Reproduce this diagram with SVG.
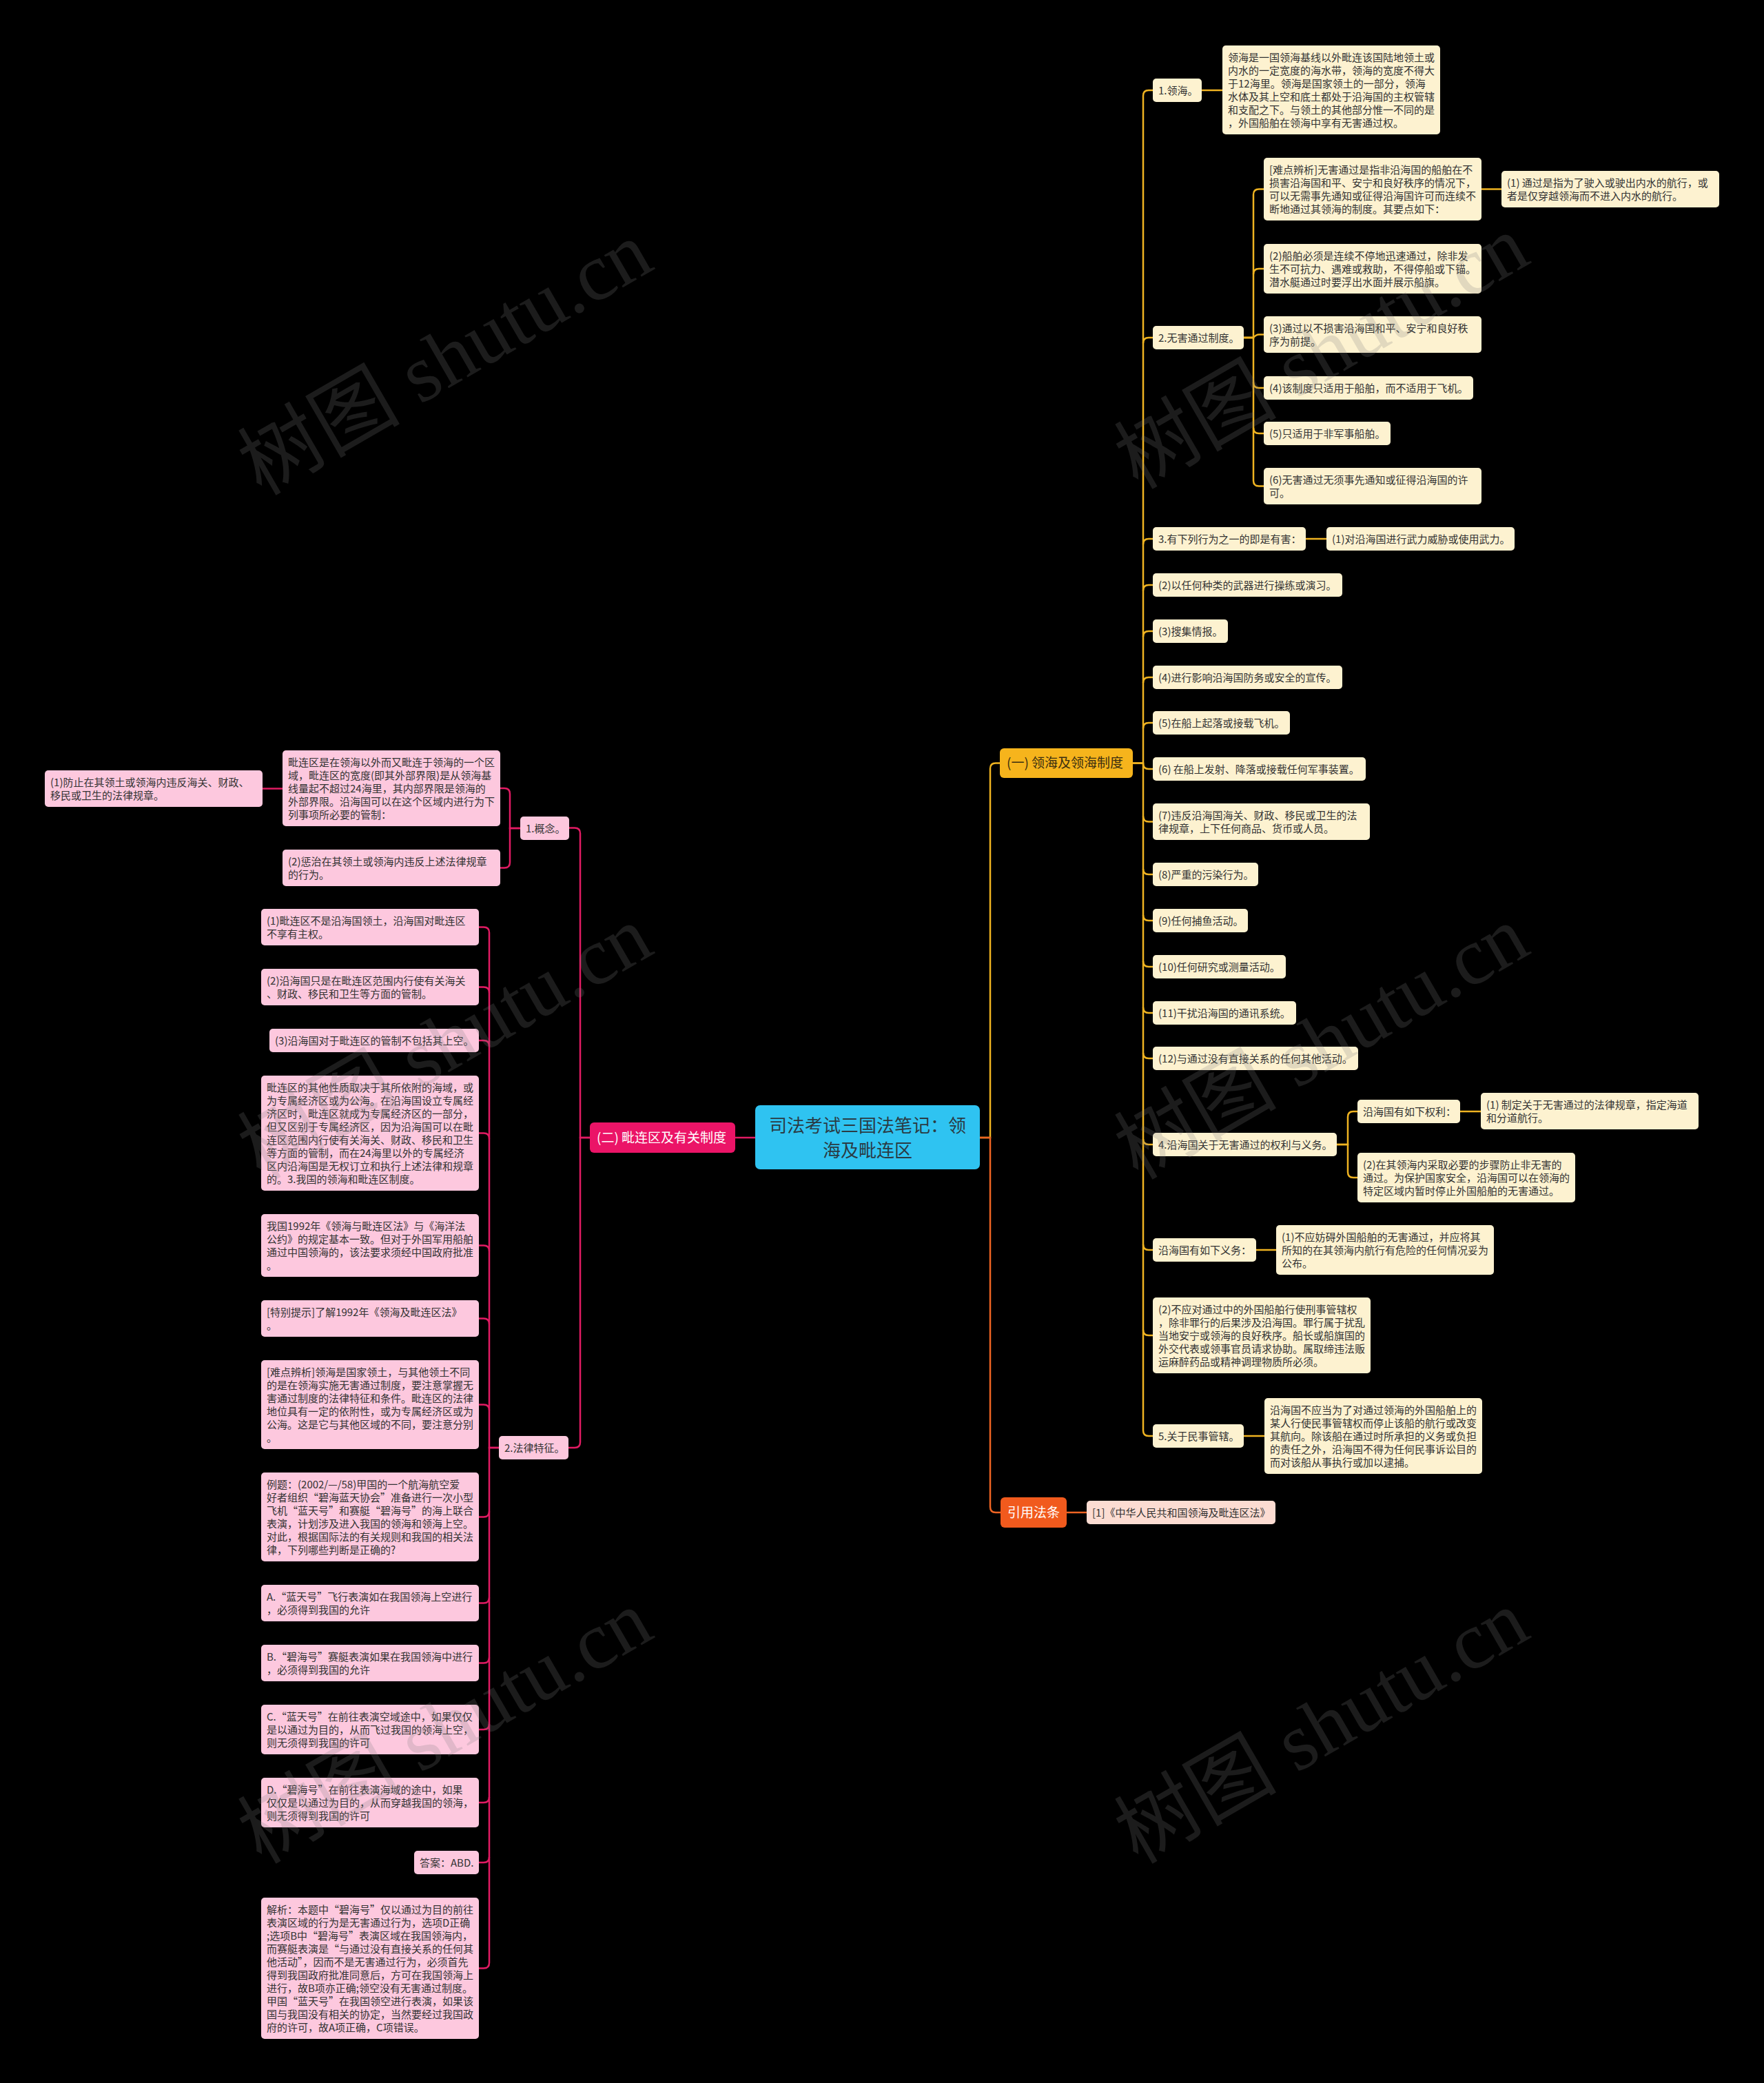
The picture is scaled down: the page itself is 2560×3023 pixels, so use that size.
<svg xmlns="http://www.w3.org/2000/svg" width="2560" height="3023" viewBox="0 0 2560 3023">
<style>
.t{font-family:"Noto Sans CJK SC","Noto Sans",sans-serif;font-size:15px;fill:#333}
.y rect{fill:#fdf2d0}
.p rect{fill:#fdc8de}
.o rect{fill:#fcdcd2}
.cy{fill:none;stroke:#efb321;stroke-width:2.5}
.cp{fill:none;stroke:#e11b63;stroke-width:2.5}
.co{fill:none;stroke:#ee6423;stroke-width:2.5}
.h{font-family:"Noto Sans CJK SC",sans-serif;font-size:19px}
.wm{font-family:"Liberation Serif","Noto Sans CJK SC",serif;font-size:118px;fill:#808080;opacity:0.22}
</style>
<rect x="0" y="0" width="2560" height="3023" fill="#000"/>

<g id="connectors">
<path class="cy" d="M1422,1651 H1437 V1115.5 Q1437,1107.5 1445,1107.5 H1451"/>
<path class="co" d="M1422,1651 H1437 V2187 Q1437,2195 1445,2195 H1452"/>
<path class="co" d="M1548,2195 H1577"/>
<path class="cp" d="M1096,1651 H1067"/>
<path class="cy" d="M1644,1107.5 H1659 V139 Q1659,131 1667,131 H1673"/>
<path class="cy" d="M1659,498 Q1659,490 1667,490 H1673"/>
<path class="cy" d="M1659,790 Q1659,782 1667,782 H1673"/>
<path class="cy" d="M1659,857 Q1659,849 1667,849 H1673"/>
<path class="cy" d="M1659,924 Q1659,916 1667,916 H1673"/>
<path class="cy" d="M1659,991 Q1659,983 1667,983 H1673"/>
<path class="cy" d="M1659,1057 Q1659,1049 1667,1049 H1673"/>
<path class="cy" d="M1659,1108 Q1659,1116 1667,1116 H1673"/>
<path class="cy" d="M1644,1107.5 H1659 V2076 Q1659,2084 1667,2084 H1673"/>
<path class="cy" d="M1659,1184.5 Q1659,1192.5 1667,1192.5 H1673"/>
<path class="cy" d="M1659,1261 Q1659,1269 1667,1269 H1673"/>
<path class="cy" d="M1659,1328 Q1659,1336 1667,1336 H1673"/>
<path class="cy" d="M1659,1395 Q1659,1403 1667,1403 H1673"/>
<path class="cy" d="M1659,1462 Q1659,1470 1667,1470 H1673"/>
<path class="cy" d="M1659,1528 Q1659,1536 1667,1536 H1673"/>
<path class="cy" d="M1659,1653 Q1659,1661 1667,1661 H1673"/>
<path class="cy" d="M1659,1806 Q1659,1814 1667,1814 H1673"/>
<path class="cy" d="M1659,1930 Q1659,1938 1667,1938 H1673"/>
<path class="cy" d="M1744,131 H1774"/>
<path class="cy" d="M1805,490 H1819 V282.5 Q1819,274.5 1827,274.5 H1834"/>
<path class="cy" d="M1819,398 Q1819,390 1827,390 H1834"/>
<path class="cy" d="M1805,490 H1819 Q1823,485.5 1827,485.5 H1834"/>
<path class="cy" d="M1805,490 H1819 V697.5 Q1819,705.5 1827,705.5 H1834"/>
<path class="cy" d="M1819,555 Q1819,563 1827,563 H1834"/>
<path class="cy" d="M1819,621 Q1819,629 1827,629 H1834"/>
<path class="cy" d="M2150,274.5 H2179"/>
<path class="cy" d="M1895,782 H1925"/>
<path class="cy" d="M1940,1661 H1956 V1621 Q1956,1613 1964,1613 H1970"/>
<path class="cy" d="M1940,1661 H1956 V1701 Q1956,1709 1964,1709 H1970"/>
<path class="cy" d="M2119,1613 H2149"/>
<path class="cy" d="M1823,1814 H1852"/>
<path class="cy" d="M1805,2084 H1835"/>
<path class="cp" d="M856,1651 H842 V1209.5 Q842,1201.5 834,1201.5 H826"/>
<path class="cp" d="M856,1651 H842 V2093 Q842,2101 834,2101 H825"/>
<path class="cp" d="M755,1202 H740 V1152 Q740,1144 732,1144 H726"/>
<path class="cp" d="M755,1202 H740 V1251.5 Q740,1259.5 732,1259.5 H726"/>
<path class="cp" d="M410,1144.5 H381"/>
<path class="cp" d="M724,2101 H710 V1353.5 Q710,1345.5 702,1345.5 H695"/>
<path class="cp" d="M724,2101 H710 V2848.5 Q710,2856.5 702,2856.5 H695"/>
<path class="cp" d="M710,1440.5 Q710,1432.5 702,1432.5 H695"/>
<path class="cp" d="M710,1518 Q710,1510 702,1510 H695"/>
<path class="cp" d="M710,1652.5 Q710,1644.5 702,1644.5 H695"/>
<path class="cp" d="M710,1815.5 Q710,1807.5 702,1807.5 H695"/>
<path class="cp" d="M710,1921.5 Q710,1913.5 702,1913.5 H695"/>
<path class="cp" d="M710,2046.5 Q710,2038.5 702,2038.5 H695"/>
<path class="cp" d="M710,2193.5 Q710,2201.5 702,2201.5 H695"/>
<path class="cp" d="M710,2318.5 Q710,2326.5 702,2326.5 H695"/>
<path class="cp" d="M710,2405.5 Q710,2413.5 702,2413.5 H695"/>
<path class="cp" d="M710,2502 Q710,2510 702,2510 H695"/>
<path class="cp" d="M710,2608 Q710,2616 702,2616 H695"/>
<path class="cp" d="M710,2695 Q710,2703 702,2703 H695"/>
</g>

<g id="root">
<rect x="1096" y="1604" width="326" height="93" rx="7" fill="#2fc3f1"/>
<text font-family="Noto Sans CJK SC,sans-serif" font-size="26" fill="#2a3b44" text-anchor="middle"><tspan x="1259" y="1642.5">司法考试三国法笔记：领</tspan><tspan x="1259" y="1678.5">海及毗连区</tspan></text>
</g>

<g id="b1">
<rect x="1451" y="1086" width="193" height="43" rx="6" fill="#f6b41c"/>
<text class="h" x="1461" y="1114" fill="#3a2e10">(一) 领海及领海制度</text>
</g>
<g id="b2">
<rect x="856" y="1629" width="211" height="44" rx="6" fill="#eb1467"/>
<text class="h" x="866" y="1658" fill="#fff">(二) 毗连区及有关制度</text>
</g>
<g id="b3">
<rect x="1452" y="2173" width="96" height="44" rx="6" fill="#f15a1d"/>
<text class="h" x="1462" y="2202" fill="#fff">引用法条</text>
</g>
<g id="b3c" class="o">
<rect x="1577" y="2178" width="274" height="34" rx="5"/>
<text class="t" x="1585" y="2200.5">[1]《中华人民共和国领海及毗连区法》</text>
</g>

<g id="r1" class="y"><rect x="1673" y="114" width="71" height="34" rx="5"/><text class="t" x="1681" y="136.5">1.领海。</text></g>
<g id="r1a" class="y"><rect x="1774" y="66" width="316" height="129" rx="5"/><text class="t"><tspan x="1782" y="88.5">领海是一国领海基线以外毗连该国陆地领土或</tspan><tspan x="1782" y="107.5">内水的一定宽度的海水带，领海的宽度不得大</tspan><tspan x="1782" y="126.5">于12海里。领海是国家领土的一部分，领海</tspan><tspan x="1782" y="145.5">水体及其上空和底土都处于沿海国的主权管辖</tspan><tspan x="1782" y="164.5">和支配之下。与领土的其他部分惟一不同的是</tspan><tspan x="1782" y="183.5">，外国船舶在领海中享有无害通过权。</tspan></text></g>
<g id="r2" class="y"><rect x="1673" y="473" width="132" height="34" rx="5"/><text class="t" x="1681" y="495.5">2.无害通过制度。</text></g>
<g id="r2a" class="y"><rect x="1834" y="229" width="316" height="91" rx="5"/><text class="t"><tspan x="1842" y="251.5">[难点辨析]无害通过是指非沿海国的船舶在不</tspan><tspan x="1842" y="270.5">损害沿海国和平、安宁和良好秩序的情况下，</tspan><tspan x="1842" y="289.5">可以无需事先通知或征得沿海国许可而连续不</tspan><tspan x="1842" y="308.5">断地通过其领海的制度。其要点如下：</tspan></text></g>
<g id="r2a1" class="y"><rect x="2179" y="248" width="316" height="53" rx="5"/><text class="t"><tspan x="2187" y="270.5">(1) 通过是指为了驶入或驶出内水的航行，或</tspan><tspan x="2187" y="289.5">者是仅穿越领海而不进入内水的航行。</tspan></text></g>
<g id="r2b" class="y"><rect x="1834" y="354" width="316" height="72" rx="5"/><text class="t"><tspan x="1842" y="376.5">(2)船舶必须是连续不停地迅速通过，除非发</tspan><tspan x="1842" y="395.5">生不可抗力、遇难或救助，不得停船或下锚。</tspan><tspan x="1842" y="414.5">潜水艇通过时要浮出水面并展示船旗。</tspan></text></g>
<g id="r2c" class="y"><rect x="1834" y="459" width="316" height="53" rx="5"/><text class="t"><tspan x="1842" y="481.5">(3)通过以不损害沿海国和平、安宁和良好秩</tspan><tspan x="1842" y="500.5">序为前提。</tspan></text></g>
<g id="r2d" class="y"><rect x="1834" y="546" width="304" height="34" rx="5"/><text class="t" x="1842" y="568.5">(4)该制度只适用于船舶，而不适用于飞机。</text></g>
<g id="r2e" class="y"><rect x="1834" y="612" width="184" height="34" rx="5"/><text class="t" x="1842" y="634.5">(5)只适用于非军事船舶。</text></g>
<g id="r2f" class="y"><rect x="1834" y="679" width="316" height="53" rx="5"/><text class="t"><tspan x="1842" y="701.5">(6)无害通过无须事先通知或征得沿海国的许</tspan><tspan x="1842" y="720.5">可。</tspan></text></g>
<g id="r3" class="y"><rect x="1673" y="765" width="222" height="34" rx="5"/><text class="t" x="1681" y="787.5">3.有下列行为之一的即是有害：</text></g>
<g id="r3a" class="y"><rect x="1925" y="765" width="273" height="34" rx="5"/><text class="t" x="1933" y="787.5">(1)对沿海国进行武力威胁或使用武力。</text></g>
<g id="r4" class="y"><rect x="1673" y="832" width="275" height="34" rx="5"/><text class="t" x="1681" y="854.5">(2)以任何种类的武器进行操练或演习。</text></g>
<g id="r5" class="y"><rect x="1673" y="899" width="109" height="34" rx="5"/><text class="t" x="1681" y="921.5">(3)搜集情报。</text></g>
<g id="r6" class="y"><rect x="1673" y="966" width="275" height="34" rx="5"/><text class="t" x="1681" y="988.5">(4)进行影响沿海国防务或安全的宣传。</text></g>
<g id="r7" class="y"><rect x="1673" y="1032" width="199" height="34" rx="5"/><text class="t" x="1681" y="1054.5">(5)在船上起落或接载飞机。</text></g>
<g id="r8" class="y"><rect x="1673" y="1099" width="309" height="34" rx="5"/><text class="t" x="1681" y="1121.5">(6) 在船上发射、降落或接载任何军事装置。</text></g>
<g id="r9" class="y"><rect x="1673" y="1166" width="315" height="53" rx="5"/><text class="t"><tspan x="1681" y="1188.5">(7)违反沿海国海关、财政、移民或卫生的法</tspan><tspan x="1681" y="1207.5">律规章，上下任何商品、货币或人员。</tspan></text></g>
<g id="r10" class="y"><rect x="1673" y="1252" width="153" height="34" rx="5"/><text class="t" x="1681" y="1274.5">(8)严重的污染行为。</text></g>
<g id="r11" class="y"><rect x="1673" y="1319" width="138" height="34" rx="5"/><text class="t" x="1681" y="1341.5">(9)任何捕鱼活动。</text></g>
<g id="r12" class="y"><rect x="1673" y="1386" width="193" height="34" rx="5"/><text class="t" x="1681" y="1408.5">(10)任何研究或测量活动。</text></g>
<g id="r13" class="y"><rect x="1673" y="1453" width="208" height="34" rx="5"/><text class="t" x="1681" y="1475.5">(11)干扰沿海国的通讯系统。</text></g>
<g id="r14" class="y"><rect x="1673" y="1519" width="298" height="34" rx="5"/><text class="t" x="1681" y="1541.5">(12)与通过没有直接关系的任何其他活动。</text></g>
<g id="r15" class="y"><rect x="1673" y="1644" width="267" height="34" rx="5"/><text class="t" x="1681" y="1666.5">4.沿海国关于无害通过的权利与义务。</text></g>
<g id="r15a" class="y"><rect x="1970" y="1596" width="149" height="34" rx="5"/><text class="t" x="1978" y="1618.5">沿海国有如下权利：</text></g>
<g id="r15a1" class="y"><rect x="2149" y="1586" width="316" height="53" rx="5"/><text class="t"><tspan x="2157" y="1608.5">(1) 制定关于无害通过的法律规章，指定海道</tspan><tspan x="2157" y="1627.5">和分道航行。</tspan></text></g>
<g id="r15b" class="y"><rect x="1970" y="1673" width="316" height="72" rx="5"/><text class="t"><tspan x="1978" y="1695.5">(2)在其领海内采取必要的步骤防止非无害的</tspan><tspan x="1978" y="1714.5">通过。为保护国家安全，沿海国可以在领海的</tspan><tspan x="1978" y="1733.5">特定区域内暂时停止外国船舶的无害通过。</tspan></text></g>
<g id="r16" class="y"><rect x="1673" y="1797" width="150" height="34" rx="5"/><text class="t" x="1681" y="1819.5">沿海国有如下义务：</text></g>
<g id="r16a" class="y"><rect x="1852" y="1778" width="316" height="72" rx="5"/><text class="t"><tspan x="1860" y="1800.5">(1)不应妨碍外国船舶的无害通过，并应将其</tspan><tspan x="1860" y="1819.5">所知的在其领海内航行有危险的任何情况妥为</tspan><tspan x="1860" y="1838.5">公布。</tspan></text></g>
<g id="r17" class="y"><rect x="1673" y="1883" width="316" height="110" rx="5"/><text class="t"><tspan x="1681" y="1905.5">(2)不应对通过中的外国船舶行使刑事管辖权</tspan><tspan x="1681" y="1924.5">，除非罪行的后果涉及沿海国。罪行属于扰乱</tspan><tspan x="1681" y="1943.5">当地安宁或领海的良好秩序。船长或船旗国的</tspan><tspan x="1681" y="1962.5">外交代表或领事官员请求协助。属取缔违法贩</tspan><tspan x="1681" y="1981.5">运麻醉药品或精神调理物质所必须。</tspan></text></g>
<g id="r18" class="y"><rect x="1673" y="2067" width="132" height="34" rx="5"/><text class="t" x="1681" y="2089.5">5.关于民事管辖。</text></g>
<g id="r18a" class="y"><rect x="1835" y="2029" width="316" height="110" rx="5"/><text class="t"><tspan x="1843" y="2051.5">沿海国不应当为了对通过领海的外国船舶上的</tspan><tspan x="1843" y="2070.5">某人行使民事管辖权而停止该船的航行或改变</tspan><tspan x="1843" y="2089.5">其航向。除该船在通过时所承担的义务或负担</tspan><tspan x="1843" y="2108.5">的责任之外，沿海国不得为任何民事诉讼目的</tspan><tspan x="1843" y="2127.5">而对该船从事执行或加以逮捕。</tspan></text></g>

<g id="l1" class="p"><rect x="755" y="1185" width="71" height="34" rx="5"/><text class="t" x="763" y="1207.5">1.概念。</text></g>
<g id="l1a" class="p"><rect x="410" y="1089" width="316" height="110" rx="5"/><text class="t"><tspan x="418" y="1111.5">毗连区是在领海以外而又毗连于领海的一个区</tspan><tspan x="418" y="1130.5">域，毗连区的宽度(即其外部界限)是从领海基</tspan><tspan x="418" y="1149.5">线量起不超过24海里，其内部界限是领海的</tspan><tspan x="418" y="1168.5">外部界限。沿海国可以在这个区域内进行为下</tspan><tspan x="418" y="1187.5">列事项所必要的管制：</tspan></text></g>
<g id="l1a1" class="p"><rect x="65" y="1118" width="316" height="53" rx="5"/><text class="t"><tspan x="73" y="1140.5">(1)防止在其领土或领海内违反海关、财政、</tspan><tspan x="73" y="1159.5">移民或卫生的法律规章。</tspan></text></g>
<g id="l1b" class="p"><rect x="410" y="1233" width="316" height="53" rx="5"/><text class="t"><tspan x="418" y="1255.5">(2)惩治在其领土或领海内违反上述法律规章</tspan><tspan x="418" y="1274.5">的行为。</tspan></text></g>
<g id="l2" class="p"><rect x="724" y="2084" width="101" height="34" rx="5"/><text class="t" x="732" y="2106.5">2.法律特征。</text></g>
<g id="l2a" class="p"><rect x="379" y="1319" width="316" height="53" rx="5"/><text class="t"><tspan x="387" y="1341.5">(1)毗连区不是沿海国领土，沿海国对毗连区</tspan><tspan x="387" y="1360.5">不享有主权。</tspan></text></g>
<g id="l2b" class="p"><rect x="379" y="1406" width="316" height="53" rx="5"/><text class="t"><tspan x="387" y="1428.5">(2)沿海国只是在毗连区范围内行使有关海关</tspan><tspan x="387" y="1447.5">、财政、移民和卫生等方面的管制。</tspan></text></g>
<g id="l2c" class="p"><rect x="391" y="1493" width="304" height="34" rx="5"/><text class="t" x="399" y="1515.5">(3)沿海国对于毗连区的管制不包括其上空。</text></g>
<g id="l2d" class="p"><rect x="379" y="1561" width="316" height="167" rx="5"/><text class="t"><tspan x="387" y="1583.5">毗连区的其他性质取决于其所依附的海域，或</tspan><tspan x="387" y="1602.5">为专属经济区或为公海。在沿海国设立专属经</tspan><tspan x="387" y="1621.5">济区时，毗连区就成为专属经济区的一部分，</tspan><tspan x="387" y="1640.5">但又区别于专属经济区，因为沿海国可以在毗</tspan><tspan x="387" y="1659.5">连区范围内行使有关海关、财政、移民和卫生</tspan><tspan x="387" y="1678.5">等方面的管制，而在24海里以外的专属经济</tspan><tspan x="387" y="1697.5">区内沿海国是无权订立和执行上述法律和规章</tspan><tspan x="387" y="1716.5">的。3.我国的领海和毗连区制度。</tspan></text></g>
<g id="l2e" class="p"><rect x="379" y="1762" width="316" height="91" rx="5"/><text class="t"><tspan x="387" y="1784.5">我国1992年《领海与毗连区法》与《海洋法</tspan><tspan x="387" y="1803.5">公约》的规定基本一致。但对于外国军用船舶</tspan><tspan x="387" y="1822.5">通过中国领海的，该法要求须经中国政府批准</tspan><tspan x="387" y="1841.5">。</tspan></text></g>
<g id="l2f" class="p"><rect x="379" y="1887" width="316" height="53" rx="5"/><text class="t"><tspan x="387" y="1909.5">[特别提示]了解1992年《领海及毗连区法》</tspan><tspan x="387" y="1928.5">。</tspan></text></g>
<g id="l2g" class="p"><rect x="379" y="1974" width="316" height="129" rx="5"/><text class="t"><tspan x="387" y="1996.5">[难点辨析]领海是国家领土，与其他领土不同</tspan><tspan x="387" y="2015.5">的是在领海实施无害通过制度，要注意掌握无</tspan><tspan x="387" y="2034.5">害通过制度的法律特征和条件。毗连区的法律</tspan><tspan x="387" y="2053.5">地位具有一定的依附性，或为专属经济区或为</tspan><tspan x="387" y="2072.5">公海。这是它与其他区域的不同，要注意分别</tspan><tspan x="387" y="2091.5">。</tspan></text></g>
<g id="l2h" class="p"><rect x="379" y="2137" width="316" height="129" rx="5"/><text class="t"><tspan x="387" y="2159.5">例题：(2002/—/58)甲国的一个航海航空爱</tspan><tspan x="387" y="2178.5">好者组织“碧海蓝天协会”准备进行一次小型</tspan><tspan x="387" y="2197.5">飞机“蓝天号”和赛艇“碧海号”的海上联合</tspan><tspan x="387" y="2216.5">表演，计划涉及进入我国的领海和领海上空。</tspan><tspan x="387" y="2235.5">对此，根据国际法的有关规则和我国的相关法</tspan><tspan x="387" y="2254.5">律，下列哪些判断是正确的?</tspan></text></g>
<g id="l2i" class="p"><rect x="379" y="2300" width="316" height="53" rx="5"/><text class="t"><tspan x="387" y="2322.5">A.“蓝天号”飞行表演如在我国领海上空进行</tspan><tspan x="387" y="2341.5">，必须得到我国的允许</tspan></text></g>
<g id="l2j" class="p"><rect x="379" y="2387" width="316" height="53" rx="5"/><text class="t"><tspan x="387" y="2409.5">B.“碧海号”赛艇表演如果在我国领海中进行</tspan><tspan x="387" y="2428.5">，必须得到我国的允许</tspan></text></g>
<g id="l2k" class="p"><rect x="379" y="2474" width="316" height="72" rx="5"/><text class="t"><tspan x="387" y="2496.5">C.“蓝天号”在前往表演空域途中，如果仅仅</tspan><tspan x="387" y="2515.5">是以通过为目的，从而飞过我国的领海上空，</tspan><tspan x="387" y="2534.5">则无须得到我国的许可</tspan></text></g>
<g id="l2l" class="p"><rect x="379" y="2580" width="316" height="72" rx="5"/><text class="t"><tspan x="387" y="2602.5">D.“碧海号”在前往表演海域的途中，如果</tspan><tspan x="387" y="2621.5">仅仅是以通过为目的，从而穿越我国的领海，</tspan><tspan x="387" y="2640.5">则无须得到我国的许可</tspan></text></g>
<g id="l2m" class="p"><rect x="601" y="2686" width="94" height="34" rx="5"/><text class="t" x="609" y="2708.5">答案：ABD.</text></g>
<g id="l2n" class="p"><rect x="379" y="2754" width="316" height="205" rx="5"/><text class="t"><tspan x="387" y="2776.5">解析：本题中“碧海号”仅以通过为目的前往</tspan><tspan x="387" y="2795.5">表演区域的行为是无害通过行为，选项D正确</tspan><tspan x="387" y="2814.5">;选项B中“碧海号”表演区域在我国领海内，</tspan><tspan x="387" y="2833.5">而赛艇表演是“与通过没有直接关系的任何其</tspan><tspan x="387" y="2852.5">他活动”，因而不是无害通过行为，必须首先</tspan><tspan x="387" y="2871.5">得到我国政府批准同意后，方可在我国领海上</tspan><tspan x="387" y="2890.5">进行，故B项亦正确;领空没有无害通过制度。</tspan><tspan x="387" y="2909.5">甲国“蓝天号”在我国领空进行表演，如果该</tspan><tspan x="387" y="2928.5">国与我国没有相关的协定，当然要经过我国政</tspan><tspan x="387" y="2947.5">府的许可，故A项正确，C项错误。</tspan></text></g>

<g id="watermark">
<text class="wm" x="646" y="560" text-anchor="middle" transform="rotate(-30 646 520)">树图 shutu.cn</text>
<text class="wm" x="1918" y="551" text-anchor="middle" transform="rotate(-30 1918 511)">树图 shutu.cn</text>
<text class="wm" x="646" y="1553" text-anchor="middle" transform="rotate(-30 646 1513)">树图 shutu.cn</text>
<text class="wm" x="1918" y="1553" text-anchor="middle" transform="rotate(-30 1918 1513)">树图 shutu.cn</text>
<text class="wm" x="646" y="2546" text-anchor="middle" transform="rotate(-30 646 2506)">树图 shutu.cn</text>
<text class="wm" x="1918" y="2546" text-anchor="middle" transform="rotate(-30 1918 2506)">树图 shutu.cn</text>
</g>
</svg>
